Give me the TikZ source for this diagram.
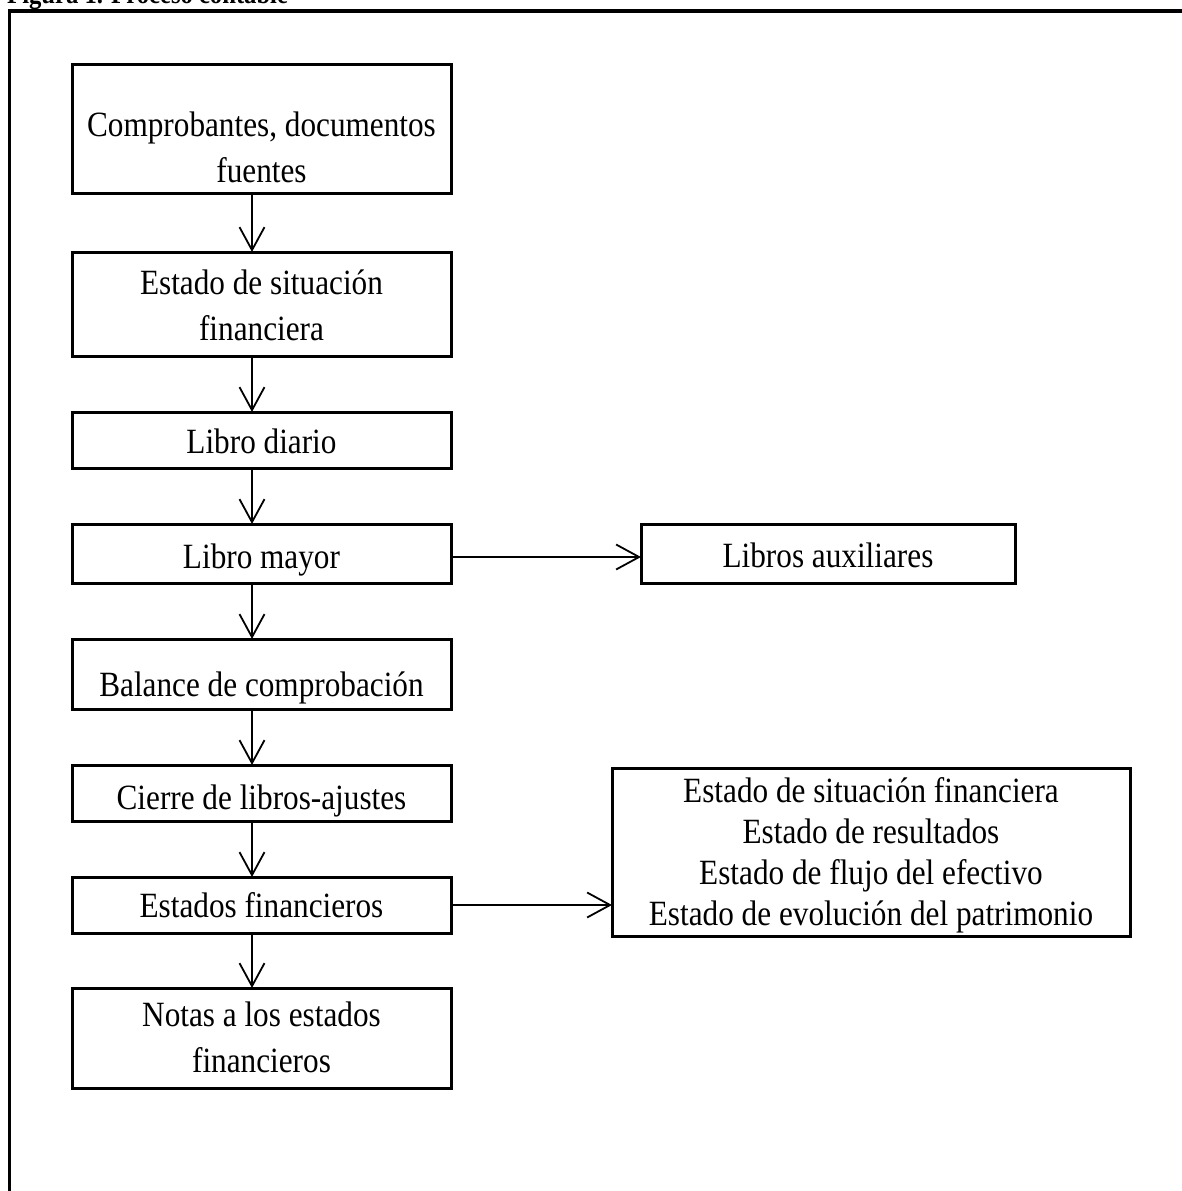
\documentclass[tikz,border=0pt]{standalone}
\usepackage{fontspec}
\setmainfont{Liberation Serif}[FakeStretch=0.88]
\usetikzlibrary{arrows.meta}

% centred lines whose baseline is that of the first line
\newcommand\stackedlines[1]{\begin{tabular}[t]{@{}c@{}}#1\end{tabular}}

\tikzset{
  stepbox/.style={draw, line width=3pt, inner sep=0pt, outer sep=0pt},
  steptext/.style={anchor=base, inner sep=0pt, outer sep=0pt,
    font=\fontsize{35.5}{46}\selectfont},
  listtext/.style={steptext, font=\fontsize{35.5}{41}\selectfont},
  flow/.style={line width=1.8pt,
    -{Straight Barb[length=23pt,width=25pt,line width=1.8pt]}},
  frameline/.style={line width=3.5pt},
}

\begin{document}
\begin{tikzpicture}[x=1pt,y=-1pt]
  \useasboundingbox (0,0) rectangle (1181,1191);

  % caption above the frame
  \node[anchor=base west, inner sep=0pt, font=\fontsize{28}{30}\selectfont\bfseries]
    (caption) at (7,3) {Figura 1. Proceso contable};

  % open frame: top and left edges
  \draw[frameline] (9.5,1200) -- (9.5,11) -- (1190,11);

  % main column boxes
  \node[stepbox, minimum width=379pt, minimum height=129pt] (b1) at (261.5,128.5) {};
  \node[stepbox, minimum width=379pt, minimum height=104pt] (b2) at (261.5,304) {};
  \node[stepbox, minimum width=379pt, minimum height=56pt]  (b3) at (261.5,440) {};
  \node[stepbox, minimum width=379pt, minimum height=59pt]  (b4) at (261.5,553.5) {};
  \node[stepbox, minimum width=379pt, minimum height=70pt]  (b5) at (261.5,674) {};
  \node[stepbox, minimum width=379pt, minimum height=56pt]  (b6) at (261.5,793) {};
  \node[stepbox, minimum width=379pt, minimum height=56pt]  (b7) at (261.5,905) {};
  \node[stepbox, minimum width=379pt, minimum height=100pt] (b8) at (261.5,1038) {};

  % side boxes
  \node[stepbox, minimum width=374pt, minimum height=59pt]  (aux) at (828,553.5) {};
  \node[stepbox, minimum width=518pt, minimum height=168pt] (est) at (871,852) {};

  % box texts, placed on their baselines
  \node[steptext] (t1) at (261.5,136) {\stackedlines{Comprobantes, documentos\\fuentes}};
  \node[steptext] (t2) at (261.5,294) {\stackedlines{Estado de situación\\financiera}};
  \node[steptext] (t3) at (261.5,453) {Libro diario};
  \node[steptext] (t4) at (261.5,568) {Libro mayor};
  \node[steptext] (t5) at (261.5,696) {Balance de comprobación};
  \node[steptext] (t6) at (261.5,809) {Cierre de libros-ajustes};
  \node[steptext] (t7) at (261.5,917) {Estados financieros};
  \node[steptext] (t8) at (261.5,1026) {\stackedlines{Notas a los estados\\financieros}};
  \node[steptext] (t9) at (828,567) {Libros auxiliares};
  \node[listtext] (t10) at (871,802) {\stackedlines{Estado de situación financiera\\
    Estado de resultados\\Estado de flujo del efectivo\\
    Estado de evolución del patrimonio}};

  % vertical connectors
  \coordinate (ax) at (252,0);
  \foreach \a/\b in {b1/b2, b2/b3, b3/b4, b4/b5, b5/b6, b6/b7, b7/b8}
    \draw[flow] (\a.south -| ax) -- (\b.north -| ax);

  % horizontal connectors
  \coordinate (hy1) at (0,557);
  \draw[flow] (b4.east |- hy1) -- (aux.west |- hy1);
  \draw[flow] (b7.east) -- (b7.east -| est.west);
\end{tikzpicture}
\end{document}
